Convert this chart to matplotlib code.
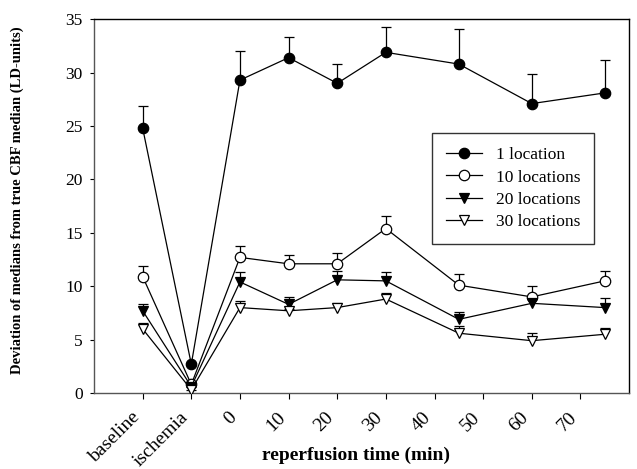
import matplotlib
matplotlib.use("Agg")
import matplotlib.pyplot as plt
import matplotlib.transforms as mtransforms
import numpy as np

plt.rcParams['font.family'] = ['Liberation Serif', 'DejaVu Serif']

# category positions: baseline=0, ischemia=1, reperfusion minutes m -> 2 + m/10
reperfusion_min = [0, 10, 20, 30, 45, 60, 75]
tick_labels = ["baseline", "ischemia", "0", "10", "20", "30", "40", "50", "60", "70"]

series_names = ["1 location", "10 locations", "20 locations", "30 locations"]
# values at baseline, ischemia, then reperfusion times
loc1 = [24.8, 2.7, 29.3, 31.4, 29.0, 31.9, 30.8, 27.1, 28.1]
loc1_err = [26.9, 2.7, 32.0, 33.3, 30.8, 34.3, 34.1, 29.9, 31.2]
loc10 = [10.9, 0.8, 12.7, 12.1, 12.1, 15.4, 10.1, 9.0, 10.5]
loc10_err = [11.9, 0.8, 13.8, 12.9, 13.1, 16.6, 11.1, 10.0, 11.4]
loc20 = [7.7, 0.6, 10.4, 8.3, 10.6, 10.5, 6.9, 8.4, 8.0]
loc20_err = [8.3, 0.6, 11.3, 9.0, 11.4, 11.3, 7.6, 8.9, 8.9]
loc30 = [6.0, 0.3, 8.0, 7.7, 8.0, 8.8, 5.6, 4.9, 5.5]
loc30_err = [6.6, 0.3, 8.6, 7.9, 8.4, 9.4, 6.3, 5.6, 6.1]

x = np.array([0, 1] + [2 + m / 10 for m in reperfusion_min])

fig = plt.figure(figsize=(6.37, 4.69), dpi=100)
ax = fig.add_axes([0.1476, 0.162, 0.84, 0.797])

styles = [
    dict(marker='o', mfc='black', mec='black'),
    dict(marker='o', mfc='white', mec='black'),
    dict(marker='v', mfc='black', mec='black'),
    dict(marker='v', mfc='white', mec='black'),
]
data = [(loc1, loc1_err), (loc10, loc10_err), (loc20, loc20_err), (loc30, loc30_err)]

handles = []
for (vals, tops), st, name in zip(data, styles, series_names):
    vals = np.array(vals)
    up = np.array(tops) - vals
    eb = ax.errorbar(x, vals, yerr=[np.zeros_like(up), up], color='black', lw=0.9,
                     elinewidth=0.9, capsize=3.5, capthick=0.9, ms=7.5,
                     markeredgewidth=0.9, label=name, zorder=3, **st)
    caps = eb[1]
    if len(caps) >= 2:
        caps[0].set_visible(False)
    handles.append(eb[0])

ax.set_xlim(-1, 10)
ax.set_ylim(0, 35)
ax.set_xticks(range(10))
ax.set_xticklabels(tick_labels, rotation=45, ha='right', va='top', fontsize=14)
offset = mtransforms.ScaledTranslation(-13 / 100, 0, fig.dpi_scale_trans)
for lab in ax.get_xticklabels():
    lab.set_transform(lab.get_transform() + offset)
ax.set_yticks(range(0, 36, 5))
ax.tick_params(axis='y', labelsize=12.5, direction='out', length=3, pad=5)
ax.tick_params(axis='x', direction='out', length=4.5, pad=7)
for k, s in ax.spines.items():
    s.set_linewidth(1.0)
    s.set_color('black' if k in ('top', 'right') else '#555555')

ax.set_xlabel("reperfusion time (min)", fontsize=14, fontweight='bold')
ax.xaxis.set_label_coords(0.49, -0.143)
ax.set_ylabel("Deviation of medians from true CBF median (LD-units)", fontsize=10.5, fontweight='bold')
ax.yaxis.set_label_coords(-0.13, 0.516)

leg = ax.legend(handles, series_names, loc='upper left', bbox_to_anchor=(0.631, 0.695),
                borderaxespad=0, fontsize=12.5, frameon=True, fancybox=False,
                edgecolor='black', handlelength=2.1, borderpad=0.8, labelspacing=0.35)
leg.get_frame().set_linewidth(1.0)

fig.savefig("out.png", dpi=100)
